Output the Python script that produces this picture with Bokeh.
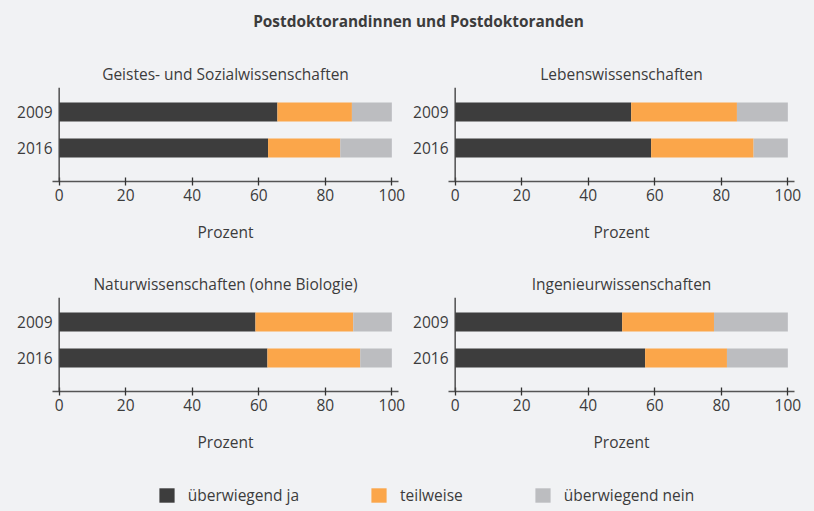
from bokeh.plotting import figure
from bokeh.models import (ColumnDataSource, Range1d, FixedTicker, Span, Legend,
                          LegendItem, Label, GlobalInlineStyleSheet)
from bokeh.layouts import column, row
from bokeh.embed import file_html
from bokeh.resources import INLINE

# ---------------- data ----------------
main_title = "Postdoktorandinnen und Postdoktoranden"
years = ["2009", "2016"]
categories = ["überwiegend ja", "teilweise", "überwiegend nein"]
x_ticks = [0, 20, 40, 60, 80, 100]
x_label = "Prozent"

geistes_title = "Geistes- und Sozialwissenschaften"
geistes_ja = [65.6, 62.8]
geistes_teil = [22.4, 21.7]
geistes_nein = [12.0, 15.5]

leben_title = "Lebenswissenschaften"
leben_ja = [52.9, 58.9]
leben_teil = [31.8, 30.8]
leben_nein = [15.3, 10.3]

natur_title = "Naturwissenschaften (ohne Biologie)"
natur_ja = [59.0, 62.6]
natur_teil = [29.4, 27.9]
natur_nein = [11.6, 9.5]

ing_title = "Ingenieurwissenschaften"
ing_ja = [50.2, 57.1]
ing_teil = [27.6, 24.6]
ing_nein = [22.2, 18.3]

# ---------------- style ----------------
BG = "#f1f2f4"
COLORS = ["#3d3d3d", "#fba64a", "#bcbdc0"]
TXT = "#3c3c3c"
FONT = "Open Sans"
FS = "15.5px"


def blank(width, height):
    p = figure(width=width, height=height, x_range=Range1d(0, 1), y_range=Range1d(0, 1),
               output_backend="svg", toolbar_location=None,
               x_axis_location=None, y_axis_location=None,
               min_border=0, background_fill_color=BG, border_fill_color=BG,
               outline_line_color=None)
    p.grid.visible = False
    return p


def panel(title, ja, teil, nein, width, bl, br):
    ypos = [len(years) - 1 - i for i in range(len(years))]
    src = ColumnDataSource(dict(y=ypos, ja=ja, teil=teil, nein=nein))
    p = figure(width=width, height=210, x_range=Range1d(-2, 102),
               y_range=Range1d(-0.93, 1.681),
               output_backend="svg", toolbar_location=None,
               min_border_left=bl, min_border_right=br,
               min_border_top=31, min_border_bottom=85,
               background_fill_color=BG, border_fill_color=BG,
               outline_line_color=None)
    p.hbar_stack(["ja", "teil", "nein"], y="y", height=0.528, source=src,
                 fill_color=COLORS, line_color=None)
    p.grid.visible = False

    p.title.text = title
    p.title.align = "center"
    p.title.text_font = FONT
    p.title.text_font_style = "normal"
    p.title.text_font_size = FS
    p.title.text_color = TXT
    p.title.standoff = 5

    xa = p.xaxis[0]
    xa.ticker = FixedTicker(ticks=x_ticks)
    xa.axis_label = x_label
    xa.axis_label_text_font = FONT
    xa.axis_label_text_font_style = "normal"
    xa.axis_label_text_font_size = FS
    xa.axis_label_text_color = TXT
    xa.axis_label_standoff = 17
    xa.major_label_text_font = FONT
    xa.major_label_text_font_size = FS
    xa.major_label_text_color = TXT
    xa.major_label_standoff = 3
    xa.major_tick_in = 4
    xa.major_tick_out = 4
    xa.major_tick_line_color = "#333333"
    xa.major_tick_line_width = 1.3
    xa.minor_tick_line_color = None
    xa.axis_line_color = "#555555"
    xa.axis_line_width = 1.5

    ya = p.yaxis[0]
    ya.ticker = FixedTicker(ticks=ypos)
    ya.major_label_overrides = {yp: yr for yp, yr in zip(ypos, years)}
    ya.major_label_text_font = FONT
    ya.major_label_text_font_size = FS
    ya.major_label_text_color = TXT
    ya.major_label_standoff = 0
    ya.major_tick_in = 0
    ya.major_tick_out = 0
    ya.major_tick_line_color = None
    ya.minor_tick_line_color = None
    ya.axis_line_color = None

    p.add_layout(Span(location=0, dimension="height", line_color="#444444", line_width=1.4))
    return p


p1 = panel(geistes_title, geistes_ja, geistes_teil, geistes_nein, 407, 52, 9)
p2 = panel(leben_title, leben_ja, leben_teil, leben_nein, 407, 41, 20)
p3 = panel(natur_title, natur_ja, natur_teil, natur_nein, 407, 52, 9)
p4 = panel(ing_title, ing_ja, ing_teil, ing_nein, 407, 41, 20)

# title
pt = blank(814, 56)
pt.add_layout(Label(x=0.5135, y=0.62, text=main_title, text_align="center",
                    text_baseline="middle", text_font=FONT, text_font_style="bold",
                    text_font_size="15.4px", text_color=TXT))

# legend (swatch renderers lie outside the visible range)
pl = blank(814, 35)
items = []
for cat, col in zip(categories, COLORS):
    r = pl.hbar(y="y", right="right", height=0.5, fill_color=col, line_color=None,
                source=ColumnDataSource(dict(y=[-10], right=[-10])))
    items.append(LegendItem(label=cat, renderers=[r]))
leg = Legend(items=items, orientation="horizontal", location=(156.7, 4.7),
             glyph_width=19, glyph_height=18, label_standoff=12, spacing=70,
             padding=0, margin=0, border_line_color=None, background_fill_alpha=0,
             label_text_font=FONT, label_text_font_size=FS, label_text_color=TXT)
pl.add_layout(leg, "center")

layout = column(pt, row(p1, p2), row(p3, p4), pl)
layout.stylesheets = [GlobalInlineStyleSheet(
    css="html,body{background:#f1f2f4;margin:0;padding:0;overflow:hidden;}")]

open("out.html", "w").write(file_html(layout, INLINE))
